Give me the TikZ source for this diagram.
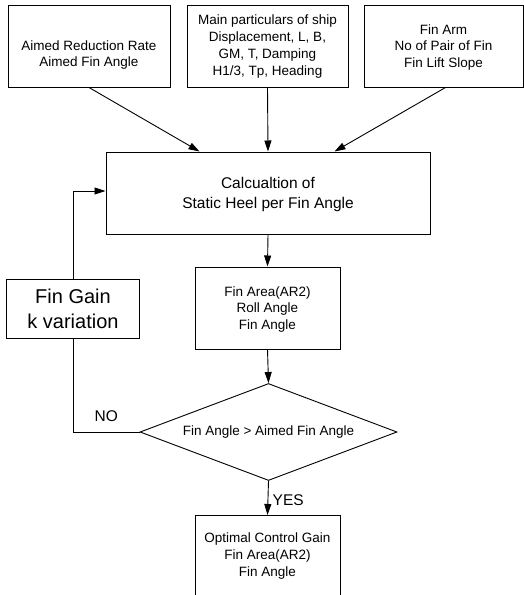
\documentclass[tikz,border=0pt]{standalone}
\usepackage{fontspec}
\setmainfont{Liberation Sans}
\usetikzlibrary{arrows.meta,shapes.geometric}
\begin{document}
\begin{tikzpicture}[x=1pt,y=-1pt,
  box/.style={draw,line width=1pt,align=center,inner sep=0pt},
  fs/.style={font=\fontsize{13.5}{16.8}\selectfont},
  txt/.style={fs,align=center,inner sep=0pt},
  arr/.style={-{Triangle[length=11pt,width=7pt]},line width=0.9pt},
  ln/.style={line width=0.9pt}]
\clip (0,0) rectangle (524,595);
% top inputs
\node[box,minimum width=162,minimum height=82] (b1) at (89,46) {};
\node[txt] (b1t) at ([yshift=-9pt]b1.center) {Aimed Reduction Rate\\Aimed Fin Angle};
\node[box,minimum width=161,minimum height=82] (b2) at (267.5,46) {};
\node[txt] (b2t) at ([yshift=-0.5pt]b2.center) {Main particulars of ship\\Displacement, L, B,\\GM, T, Damping\\H1/3, Tp, Heading};
\node[box,minimum width=159,minimum height=82] (b3) at (443.5,46) {};
\node[txt] (b3t) at ([yshift=-1.5pt]b3.center) {Fin Arm\\No of Pair of Fin\\Fin Lift Slope};
% calculation
\node[box,minimum width=324,minimum height=82] (calc) at (268,193) {};
\node[txt,font=\fontsize{15.5}{20}\selectfont] (calct) at ([yshift=-1.5pt]calc.center) {Calcualtion of\\Static Heel per Fin Angle};
% results
\node[box,minimum width=145,minimum height=82] (fa) at (267.5,308) {};
\node[txt] (fat) at ([yshift=-1.5pt]fa.center) {Fin Area(AR2)\\Roll Angle\\Fin Angle};
% decision
\node[draw,shape=diamond,line width=0.9pt,aspect=2.65,minimum width=257,minimum height=97,inner sep=0pt,fs] (dia) at (268.5,432) {Fin Angle > Aimed Fin Angle};
% optimal
\node[box,minimum width=145,minimum height=100,anchor=north] (opt) at (267.5,515) {};
\node[txt] (optt) at (267.5,556) {Optimal Control Gain\\Fin Area(AR2)\\Fin Angle};
% fin gain
\node[box,font=\fontsize{20}{25}\selectfont,minimum width=133,minimum height=59] (fg) at (73,308.5) {Fin Gain\\k variation};
% connectors
\draw[arr] (b1.south) -- ([xshift=94pt]calc.north west);
\draw[arr] (b2.south) -- (calc.north);
\draw[arr] ([xshift=2pt]b3.south) -- ([xshift=-96pt]calc.north east);
\draw[arr] (calc.south) -- (fa.north);
\draw[arr] (fa.south) -- (dia.north);
\draw[arr] (dia.south) -- node[right,font=\fontsize{15.5}{18}\selectfont,pos=0.55,xshift=1pt]{YES} (opt.north);
\draw[ln] (dia.west) -| node[pos=0.25,above,font=\fontsize{15.5}{18}\selectfont,yshift=7pt]{NO} (fg.south);
\draw[arr] (fg.north) |- ([yshift=2pt]calc.west);
\end{tikzpicture}
\end{document}
